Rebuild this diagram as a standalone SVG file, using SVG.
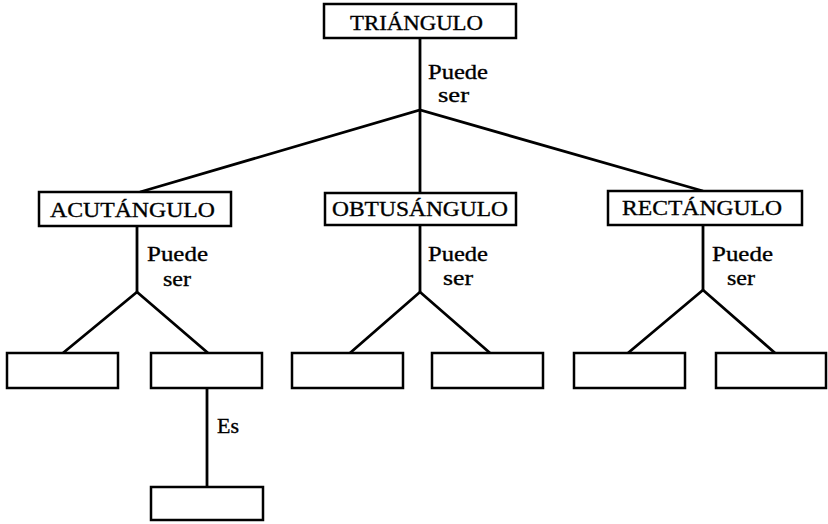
<svg xmlns="http://www.w3.org/2000/svg" width="828" height="524" viewBox="0 0 828 524">
<style>
.box{fill:#fff;stroke:#000;stroke-width:2.5}
.ln{fill:none;stroke:#000;stroke-width:2.8;stroke-linejoin:miter}
text{font-family:"Liberation Serif","DejaVu Serif",serif;font-size:22px;fill:#000;stroke:#000;stroke-width:0.35}
</style>
<rect width="828" height="524" fill="#fff"/>
<g id="connectors">
<polyline class="ln" points="420,38 420,110"/>
<polyline class="ln" points="140,192 420,110 703,191"/>
<polyline class="ln" points="420,110 420,193"/>
<polyline class="ln" points="137,226 137,292"/>
<polyline class="ln" points="63,353 137,292 208,353"/>
<polyline class="ln" points="420,225 420,292"/>
<polyline class="ln" points="350,353 420,292 490,353"/>
<polyline class="ln" points="703,225 703,290"/>
<polyline class="ln" points="628,353 703,290 775,353"/>
<polyline class="ln" points="207,388 207,487"/>
<text x="428" y="79" textLength="60" lengthAdjust="spacingAndGlyphs">Puede</text>
<text x="438" y="102" textLength="31" lengthAdjust="spacingAndGlyphs">ser</text>
<text x="147" y="261" textLength="61" lengthAdjust="spacingAndGlyphs">Puede</text>
<text x="163" y="286" textLength="28" lengthAdjust="spacingAndGlyphs">ser</text>
<text x="428" y="261" textLength="60" lengthAdjust="spacingAndGlyphs">Puede</text>
<text x="443" y="285" textLength="30" lengthAdjust="spacingAndGlyphs">ser</text>
<text x="712" y="261" textLength="61" lengthAdjust="spacingAndGlyphs">Puede</text>
<text x="727" y="285" textLength="28" lengthAdjust="spacingAndGlyphs">ser</text>
<text x="217" y="433" textLength="22" lengthAdjust="spacingAndGlyphs">Es</text>
</g>
<g id="triangulo">
<rect class="box" x="324" y="4" width="192" height="34"/>
<text x="350" y="30" textLength="133" lengthAdjust="spacingAndGlyphs">TRIÁNGULO</text>
</g>
<g id="acutangulo">
<rect class="box" x="39" y="192" width="192" height="34"/>
<text x="50" y="217" textLength="165" lengthAdjust="spacingAndGlyphs">ACUTÁNGULO</text>
</g>
<g id="obtusangulo">
<rect class="box" x="325" y="193" width="191" height="32"/>
<text x="332" y="216" textLength="176" lengthAdjust="spacingAndGlyphs">OBTUSÁNGULO</text>
</g>
<g id="rectangulo">
<rect class="box" x="608" y="191" width="194" height="34"/>
<text x="622" y="215" textLength="160" lengthAdjust="spacingAndGlyphs">RECTÁNGULO</text>
</g>
<g id="a1"><rect class="box" x="7" y="353" width="111" height="35"/></g>
<g id="a2"><rect class="box" x="151" y="353" width="111" height="35"/></g>
<g id="o1"><rect class="box" x="292" y="353" width="111" height="35"/></g>
<g id="o2"><rect class="box" x="432" y="353" width="111" height="35"/></g>
<g id="r1"><rect class="box" x="574" y="353" width="111" height="35"/></g>
<g id="r2"><rect class="box" x="716" y="353" width="110" height="35"/></g>
<g id="a2b"><rect class="box" x="151" y="487" width="112" height="33"/></g>
</svg>
